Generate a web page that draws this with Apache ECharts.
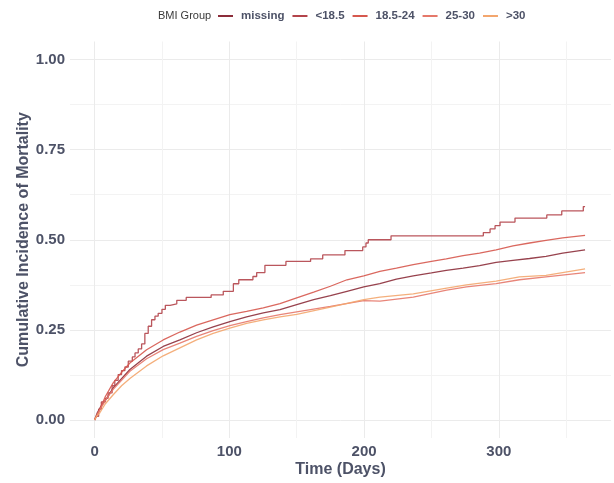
<!DOCTYPE html>
<html>
<head>
<meta charset="utf-8">
<script src="https://cdn.jsdelivr.net/npm/echarts@6/dist/echarts.min.js"></script>
<style>html,body{margin:0;padding:0;background:#fff;}#c{width:614px;height:483px;}</style>
</head>
<body>
<div id="c"></div>
<script>
// ---- data (time in days, cumulative incidence) ----
const groups = ['missing', '<18.5', '18.5-24', '25-30', '>30'];
const colors = ['#8c2d3a', '#b3444a', '#d6584e', '#e5786a', '#f3a66e'];

const missing = [[0,0],[2,0.02],[5,0.04],[9,0.06],[13.8,0.089],[26.2,0.140],[38.6,0.177],[50.9,0.204],[63.3,0.222],[75.7,0.242],[88,0.258],[100.4,0.273],[112.8,0.286],[125.2,0.297],[137.6,0.306],[150,0.320],[162.6,0.334],[175,0.345],[187.3,0.357],[199.8,0.369],[211.7,0.378],[224,0.391],[236.5,0.400],[250,0.408],[261,0.415],[273.5,0.421],[285.7,0.428],[298,0.437],[310.5,0.443],[322.8,0.448],[335,0.454],[347.4,0.463],[364,0.472]];

const under185 = [[0,0],[1,0.01],[3,0.03],[5,0.05],[8,0.06],[10,0.075],[13,0.095],[15,0.11],[17.5,0.126],[20,0.137],[22.5,0.147],[25,0.163],[28,0.175],[30,0.186],[32.4,0.197],[34.9,0.211],[37.3,0.24],[39.8,0.26],[42.3,0.278],[44.8,0.288],[47.2,0.296],[50,0.307],[52.5,0.318],[56,0.322],[61,0.332],[68,0.340],[86.5,0.347],[95.5,0.357],[103,0.378],[107,0.389],[117.5,0.398],[120.3,0.409],[126.4,0.429],[142,0.440],[160.3,0.447],[169.3,0.458],[185.8,0.470],[199,0.480],[201.4,0.491],[203.1,0.500],[220,0.511],[288.5,0.520],[293.5,0.530],[297.2,0.539],[300.9,0.549],[312,0.560],[335.6,0.569],[346.7,0.580],[362.7,0.592],[364,0.592]];

const normal = [[0,0],[2,0.015],[3.9,0.029],[8,0.065],[13.8,0.103],[20,0.132],[26.2,0.158],[38.6,0.195],[50.9,0.222],[63.3,0.244],[75.7,0.263],[88,0.278],[100.4,0.292],[112.8,0.301],[125.2,0.311],[137.6,0.323],[150,0.339],[162.6,0.355],[175,0.371],[187.3,0.389],[199.8,0.400],[211.7,0.412],[224,0.421],[236.5,0.431],[250,0.440],[261,0.447],[273.5,0.456],[285.7,0.463],[298,0.472],[310.5,0.483],[322.8,0.491],[335,0.498],[347.4,0.505],[364,0.512]];

const overweight = [[0,0],[2,0.015],[5,0.035],[9,0.06],[13.8,0.085],[26.2,0.135],[38.6,0.170],[50.9,0.195],[63.3,0.213],[75.7,0.232],[88,0.248],[100.4,0.262],[112.8,0.273],[125.2,0.283],[137.6,0.292],[150,0.300],[175,0.315],[199.8,0.331],[211.8,0.330],[236.5,0.341],[261.3,0.360],[276,0.369],[298,0.378],[315.3,0.389],[335,0.397],[364,0.409]];

const obese = [[0,0],[1.5,0.01],[3.9,0.02],[8,0.045],[13.8,0.07],[20,0.095],[26.2,0.115],[38.6,0.150],[50.9,0.178],[63.3,0.200],[75.7,0.222],[88,0.240],[100.4,0.255],[112.8,0.268],[125.2,0.278],[137.6,0.286],[150,0.293],[175,0.313],[199.8,0.334],[211.8,0.341],[236.5,0.350],[261.3,0.366],[276,0.375],[298,0.385],[315.3,0.397],[335,0.401],[364,0.419]];

const seriesData = [missing, under185, normal, overweight, obese];
const stepped = [false, 'end', false, false, false];

const xMajor = [0, 100, 200, 300];
const xMinor = [50, 150, 250, 350];
const yMajor = [0, 0.25, 0.5, 0.75, 1];
const yMinor = [0.125, 0.375, 0.625, 0.875];

const FONT = '"Liberation Sans", Arial, Helvetica, sans-serif';
const TXT = '#4d5267';

const chart = echarts.init(document.getElementById('c'), null, {renderer: 'canvas'});
chart.setOption({
  animation: false,
  backgroundColor: '#ffffff',
  textStyle: {fontFamily: FONT},
  graphic: [{
    type: 'text', left: 158, top: 10,
    style: {text: 'BMI Group', font: '11px ' + FONT, fill: '#3a3a3a'}
  }],
  legend: {
    data: groups,
    left: 213, top: 5,
    icon: 'rect', itemWidth: 15, itemHeight: 2, itemGap: 8,
    textStyle: {color: TXT, fontWeight: 'bold', fontSize: 11.5, fontFamily: FONT, padding: [0, 0, 0, 3]}
  },
  grid: {left: 70, right: 3, top: 41.5, bottom: 44.5, containLabel: false},
  xAxis: [{
    type: 'value', min: -18.25, max: 383.25,
    name: 'Time (Days)', nameLocation: 'middle', nameGap: 24, nameMoveOverlap: false,
    nameTextStyle: {color: TXT, fontWeight: 'bold', fontSize: 16, fontFamily: FONT},
    axisLine: {show: false},
    axisTick: {show: false, customValues: xMajor},
    axisLabel: {customValues: xMajor, color: TXT, fontWeight: 'bold', fontSize: 15, margin: 6, fontFamily: FONT},
    splitLine: {show: true, lineStyle: {color: '#ebebeb', width: 1}}
  }, {
    type: 'value', min: -18.25, max: 383.25, position: 'top',
    axisLine: {show: false}, axisLabel: {show: false},
    axisTick: {show: false, customValues: xMinor},
    splitLine: {show: true, lineStyle: {color: '#f3f3f3', width: 1}}
  }],
  yAxis: [{
    type: 'value', min: -0.05, max: 1.05,
    name: 'Cumulative Incidence of Mortality', nameLocation: 'middle', nameGap: 38, nameMoveOverlap: false,
    nameTextStyle: {color: TXT, fontWeight: 'bold', fontSize: 16, fontFamily: FONT},
    axisLine: {show: false},
    axisTick: {show: false, customValues: yMajor},
    axisLabel: {customValues: yMajor, color: TXT, fontWeight: 'bold', fontSize: 15, margin: 5, fontFamily: FONT,
      formatter: v => v.toFixed(2)},
    splitLine: {show: true, lineStyle: {color: '#ebebeb', width: 1}}
  }, {
    type: 'value', min: -0.05, max: 1.05, position: 'right',
    axisLine: {show: false}, axisLabel: {show: false},
    axisTick: {show: false, customValues: yMinor},
    splitLine: {show: true, lineStyle: {color: '#f3f3f3', width: 1}}
  }],
  series: groups.map((g, i) => ({
    name: g, type: 'line', data: seriesData[i], step: stepped[i],
    xAxisIndex: 0, yAxisIndex: 0,
    showSymbol: false, symbol: 'none', smooth: false,
    color: colors[i],
    lineStyle: {width: 1.3, color: colors[i], opacity: 0.9},
    z: 3 + i
  }))
});
</script>
</body>
</html>
